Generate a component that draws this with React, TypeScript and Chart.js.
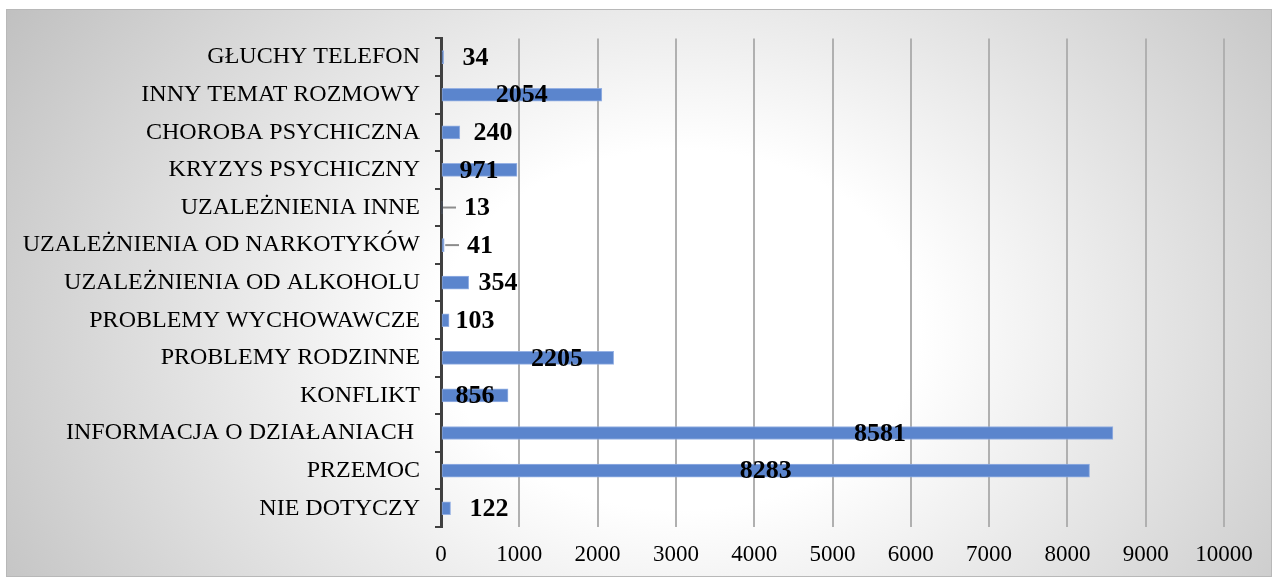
import React, { useEffect, useRef } from "react";
import { Chart, registerables } from "chart.js";

Chart.register(...registerables);

const categories = [
  "GŁUCHY TELEFON",
  "INNY TEMAT ROZMOWY",
  "CHOROBA PSYCHICZNA",
  "KRYZYS PSYCHICZNY",
  "UZALEŻNIENIA INNE",
  "UZALEŻNIENIA OD NARKOTYKÓW",
  "UZALEŻNIENIA OD ALKOHOLU",
  "PROBLEMY WYCHOWAWCZE",
  "PROBLEMY RODZINNE",
  "KONFLIKT",
  "INFORMACJA O DZIAŁANIACH ",
  "PRZEMOC",
  "NIE DOTYCZY",
];

const values = [34, 2054, 240, 971, 13, 41, 354, 103, 2205, 856, 8581, 8283, 122];

const xTicks = [0, 1000, 2000, 3000, 4000, 5000, 6000, 7000, 8000, 9000, 10000];

// label anchor (value-space) where Excel placed each data label
const labelAnchor = [441, 1031, 664, 485, 460, 498, 728, 434, 1482, 434, 5608, 4147, 613];
const leaderLine = [false, false, false, false, true, true, false, false, false, false, false, false, false];

const SERIF = '"Liberation Serif", "Times New Roman", serif';

const bgPlugin = {
  id: "bgPlugin",
  beforeDraw(chart: any) {
    const { ctx, width, height } = chart;
    ctx.save();
    const cx = 674;
    const cy = 321;
    const sx = 800 / 600;
    ctx.translate(cx, cy);
    ctx.scale(sx, 1);
    const g = ctx.createRadialGradient(0, 0, 0, 0, 0, 600);
    g.addColorStop(0, "#ffffff");
    g.addColorStop(0.3, "#ffffff");
    g.addColorStop(1, "#c0c0c0");
    ctx.fillStyle = g;
    ctx.fillRect(-cx / sx, -cy, width / sx, height);
    ctx.restore();
    ctx.save();
    ctx.strokeStyle = "#b8b8b8";
    ctx.lineWidth = 1;
    ctx.strokeRect(0.5, 0.5, width - 1, height - 1);
    ctx.restore();
  },
};

const labelPlugin = {
  id: "labelPlugin",
  afterDatasetsDraw(chart: any) {
    const { ctx } = chart;
    const xs = chart.scales.x;
    const ys = chart.scales.y;
    ctx.save();
    ctx.font = `bold 26px ${SERIF}`;
    ctx.fillStyle = "#000000";
    ctx.textAlign = "center";
    ctx.textBaseline = "middle";
    values.forEach((v, i) => {
      const x = xs.getPixelForValue(labelAnchor[i]);
      const y = ys.getPixelForValue(i) + 1;
      const text = String(v);
      const w = ctx.measureText(text).width;
      if (leaderLine[i]) {
        ctx.save();
        ctx.strokeStyle = "#8c8c8c";
        ctx.lineWidth = 2;
        ctx.beginPath();
        ctx.moveTo(xs.getPixelForValue(v) + 1, y - 1);
        ctx.lineTo(x - w / 2 - 8, y - 1);
        ctx.stroke();
        ctx.restore();
      }
      ctx.fillText(text, x, y);
    });
    ctx.restore();
  },
};

export default function App() {
  const ref = useRef<HTMLCanvasElement | null>(null);
  useEffect(() => {
    if (!ref.current) return;
    const chart = new Chart(ref.current, {
      type: "bar",
      data: {
        labels: categories,
        datasets: [
          {
            data: values,
            backgroundColor: "#5b85cd",
            borderColor: "rgba(140,170,225,0.9)",
            borderWidth: 1,
            borderSkipped: false,
            barThickness: 13,
          },
        ],
      },
      options: {
        indexAxis: "y",
        animation: false,
        responsive: true,
        maintainAspectRatio: false,
        layout: { padding: { top: 29, right: 48, bottom: 0, left: 0 } },
        plugins: {
          legend: { display: false },
          tooltip: { enabled: false },
          title: { display: false },
        },
        scales: {
          x: {
            min: 0,
            max: 10000,
            afterBuildTicks: (scale: any) => {
              scale.ticks = xTicks.map((v) => ({ value: v }));
            },
            afterFit: (scale: any) => {
              scale.height = 50;
            },
            grid: {
              color: "#b0b0b0",
              lineWidth: 2,
              drawTicks: false,
            },
            border: { display: false },
            ticks: {
              color: "#000000",
              font: { family: SERIF, size: 23 },
              padding: 14,
              maxRotation: 0,
              autoSkip: false,
              callback: (v: any) => String(v),
            },
          },
          y: {
            afterFit: (scale: any) => {
              scale.width = 435;
            },
            grid: {
              drawOnChartArea: false,
              drawTicks: true,
              tickLength: 6,
              color: "#404040",
              lineWidth: 2,
            },
            border: { display: true, color: "#404040", width: 3 },
            ticks: {
              color: "#000000",
              font: { family: SERIF, size: 24 },
              padding: 15,
              autoSkip: false,
            },
          },
        },
      },
      plugins: [bgPlugin, labelPlugin],
    });
    return () => chart.destroy();
  }, []);
  return (
    <div style={{ position: "absolute", left: 6, top: 9, width: 1266, height: 568 }}>
      <canvas ref={ref} />
    </div>
  );
}
